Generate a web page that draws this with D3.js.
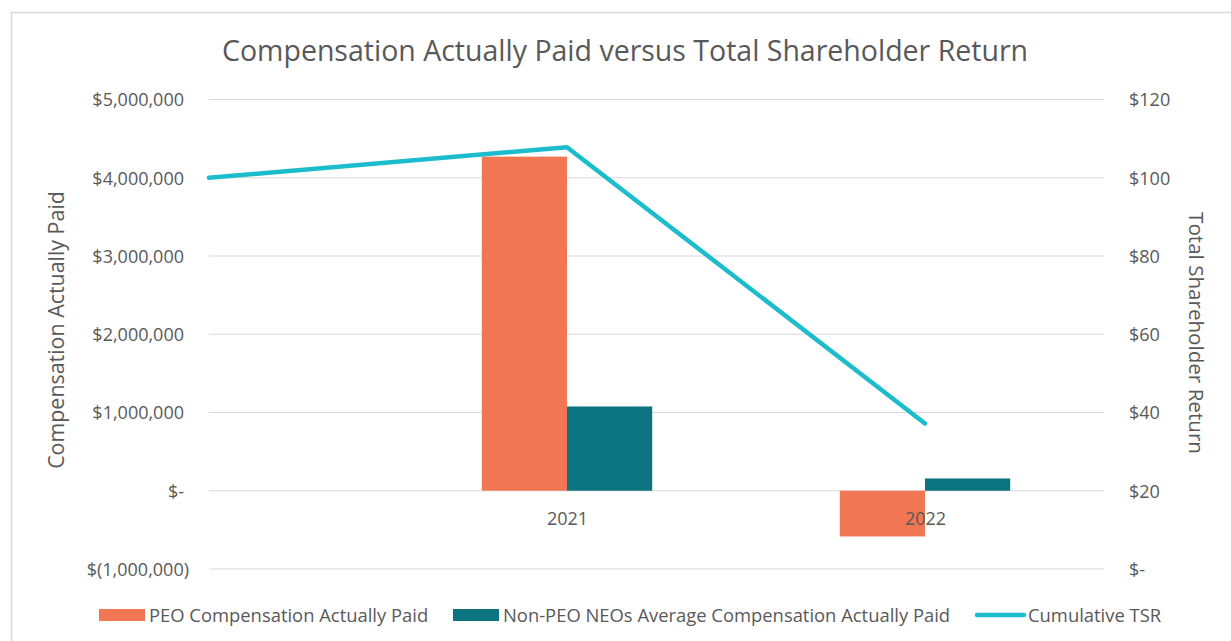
<!DOCTYPE html>
<html>
<head>
<meta charset="utf-8">
<script src="https://cdn.jsdelivr.net/npm/d3@7"></script>
<style>
  body { margin: 0; background: #fff; }
  text { font-family: "Open Sans", sans-serif; fill: #595959; }
</style>
</head>
<body>
<div id="chart"></div>
<script>
// data
const years = [2020, 2021, 2022];
const barYears = [2021, 2022];
const peoCap = [4270000, -584000];
const neoCap = [1077000, 157000];
const tsr = [100, 107.8, 37.2];
const leftTicks = [-1000000, 0, 1000000, 2000000, 3000000, 4000000, 5000000];
const rightTicks = [0, 20, 40, 60, 80, 100, 120];
const seriesNames = ["PEO Compensation Actually Paid", "Non-PEO NEOs Average Compensation Actually Paid", "Cumulative TSR"];

function run_chart(){
const width = 1231,
    height = 641,
    margin = ({ top: 99.5, right: 127, bottom: 72, left: 209 });

const colors = { peo: "#f07654", neo: "#0b7480", tsr: "#1bbccb" };

let svg = d3.select("#chart")
    .append("svg")
    .attr("width", width)
    .attr("height", height);

// outer frame (only top/left visible in the picture)
svg.append("rect")
    .attr("x", 11.5).attr("y", 12.5)
    .attr("width", width + 10).attr("height", height + 10)
    .attr("fill", "none")
    .attr("stroke", "#d9d9d9")
    .attr("stroke-width", 1.5);

let x = d3.scaleLinear()
    .domain([2020, 2022.5])
    .range([margin.left, width - margin.right]);

let y = d3.scaleLinear()
    .domain([-1000000, 5000000])
    .range([height - margin.bottom, margin.top]);

let y2 = d3.scaleLinear()
    .domain([0, 120])
    .range([height - margin.bottom, margin.top]);

// bars sit either side of the year position
let inner = d3.scaleBand()
    .domain(["peo", "neo"])
    .range([-(x(2020.238) - x(2020)), x(2020.238) - x(2020)]);

const money = d => {
    if (d === 0) return "$-";
    const s = "$" + d3.format(",")(Math.abs(d));
    return d < 0 ? "$(" + d3.format(",")(-d) + ")" : s;
};

// gridlines
svg.append("g")
    .selectAll("line")
    .data(leftTicks)
    .join("line")
    .attr("x1", x.range()[0]).attr("x2", x.range()[1])
    .attr("y1", d => y(d)).attr("y2", d => y(d))
    .attr("stroke", "#d9d9d9")
    .attr("stroke-width", 1);

// left axis
let left = svg.append("g")
    .attr("transform", `translate(${margin.left - 25},0)`)
    .call(d3.axisLeft(y).tickValues(leftTicks).tickFormat(money).tickSize(0).tickPadding(0));
left.select(".domain").remove();
left.selectAll("text")
    .attr("font-size", 18)
    .attr("dy", "0.36em")
    .attr("dx", d => d < 0 ? 5 : 0)
    .style("font-family", "Open Sans")
    .attr("fill", "#595959");

// right axis
let right = svg.append("g")
    .attr("transform", `translate(${width - margin.right + 25},0)`)
    .call(d3.axisRight(y2).tickValues(rightTicks).tickFormat(d => d === 0 ? "$-" : "$" + d).tickSize(0).tickPadding(0));
right.select(".domain").remove();
right.selectAll("text")
    .attr("font-size", 18)
    .attr("dy", "0.36em")
    .style("font-family", "Open Sans")
    .attr("fill", "#595959");

// bars
let bar = svg.selectAll(".bar")
    .data(barYears)
    .join("g")
    .attr("class", "bar")
    .attr("transform", d => `translate(${x(d)},0)`);

bar.append("rect")
    .attr("fill", colors.peo)
    .attr("x", inner("peo"))
    .attr("width", inner.bandwidth())
    .attr("y", (d, i) => y(Math.max(0, peoCap[i])))
    .attr("height", (d, i) => Math.abs(y(peoCap[i]) - y(0)));

bar.append("rect")
    .attr("fill", colors.neo)
    .attr("x", inner("neo"))
    .attr("width", inner.bandwidth())
    .attr("y", (d, i) => y(Math.max(0, neoCap[i])))
    .attr("height", (d, i) => Math.abs(y(neoCap[i]) - y(0)));

// category labels
let bottom = svg.append("g")
    .attr("transform", `translate(0,${y(0)})`)
    .call(d3.axisBottom(x).tickValues(barYears).tickFormat(d3.format("d")).tickSize(0).tickPadding(0));
bottom.select(".domain").remove();
bottom.selectAll("text")
    .attr("font-size", 18)
    .attr("y", 34)
    .attr("dy", 0)
    .style("font-family", "Open Sans")
    .attr("fill", "#595959");

// TSR line
let line = d3.line()
    .x((d, i) => x(years[i]))
    .y(d => y2(d));

svg.append("path")
    .datum(tsr)
    .attr("fill", "none")
    .attr("stroke", colors.tsr)
    .attr("stroke-width", 4.5)
    .attr("stroke-linecap", "round")
    .attr("stroke-linejoin", "round")
    .attr("d", line);

// titles
svg.append("text")
    .attr("x", 625).attr("y", 61)
    .attr("text-anchor", "middle")
    .attr("font-size", 28.5)
    .text("Compensation Actually Paid versus Total Shareholder Return");

svg.append("text")
    .attr("transform", "translate(64,330) rotate(-90)")
    .attr("text-anchor", "middle")
    .attr("font-size", 21.4)
    .text("Compensation Actually Paid");

svg.append("text")
    .attr("transform", "translate(1189,333) rotate(90)")
    .attr("text-anchor", "middle")
    .attr("font-size", 20.6)
    .text("Total Shareholder Return");

// legend
const legendX = [99, 453, 976];
let legend = svg.append("g").attr("transform", "translate(0,615)");
let item = legend.selectAll("g")
    .data(seriesNames)
    .join("g")
    .attr("transform", (d, i) => `translate(${legendX[i]},0)`);

item.filter((d, i) => i < 2).append("rect")
    .attr("x", 0).attr("y", -6)
    .attr("width", 46).attr("height", 12)
    .attr("fill", (d, i) => i === 0 ? colors.peo : colors.neo);

item.filter((d, i) => i === 2).append("line")
    .attr("x1", 1).attr("x2", 48)
    .attr("y1", 0).attr("y2", 0)
    .attr("stroke", colors.tsr)
    .attr("stroke-width", 4.5)
    .attr("stroke-linecap", "round");

item.append("text")
    .attr("x", (d, i) => i === 2 ? 52 : 50)
    .attr("y", 0)
    .attr("dy", "0.36em")
    .attr("font-size", 18.4)
    .text(d => d);
}
run_chart();
</script>
</body>
</html>
